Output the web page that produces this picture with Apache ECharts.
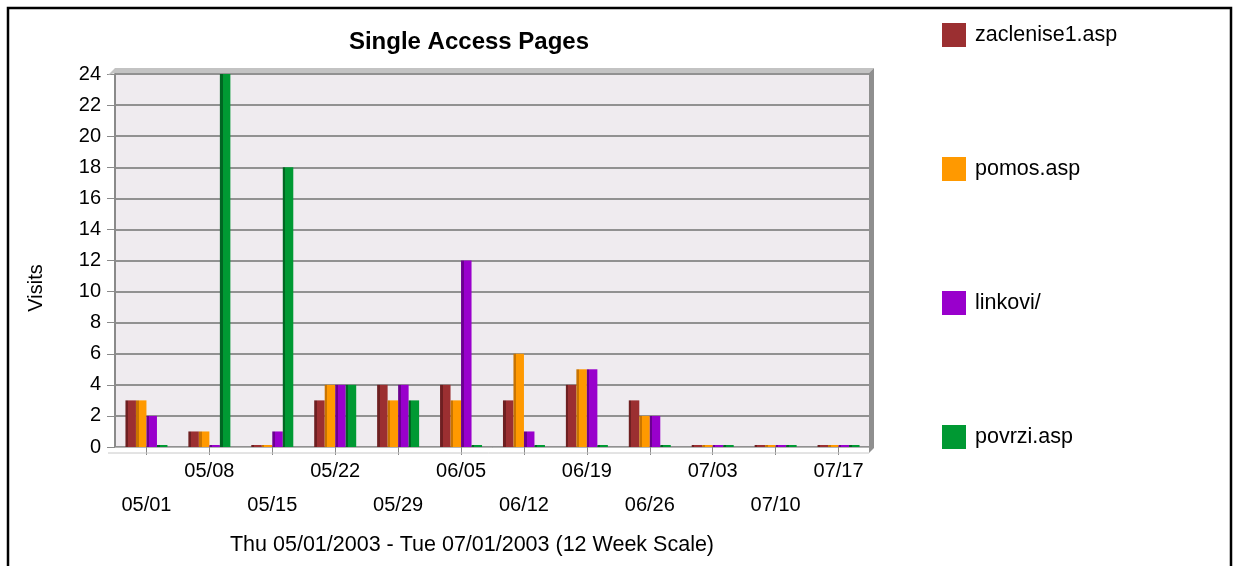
<!DOCTYPE html>
<html>
<head>
<meta charset="utf-8">
<script src="https://cdn.jsdelivr.net/npm/echarts@6/dist/echarts.min.js"></script>
<style>
  html, body { margin: 0; padding: 0; background: #fff; }
  #chart { width: 1239px; height: 566px; }
</style>
</head>
<body>
<div id="chart"></div>
<script>
// week start dates (x axis)
const weeks = ['05/01', '05/08', '05/15', '05/22', '05/29', '06/05', '06/12', '06/19', '06/26', '07/03', '07/10', '07/17'];

// visits per page
const zaclenise1 = [3, 1, 0, 3, 4, 4, 3, 4, 3, 0, 0, 0];
const pomos      = [3, 1, 0, 4, 3, 3, 6, 5, 2, 0, 0, 0];
const linkovi    = [2, 0, 1, 4, 4, 12, 1, 5, 2, 0, 0, 0];
const povrzi     = [0, 24, 18, 4, 3, 0, 0, 0, 0, 0, 0, 0];

const yTicks = [0, 2, 4, 6, 8, 10, 12, 14, 16, 18, 20, 22, 24];

const FONT = '"Liberation Sans", Arial, sans-serif';

const pages = [
  { name: 'zaclenise1.asp', data: zaclenise1, color: '#9b2f31', dark: '#6e1f21' },
  { name: 'pomos.asp',      data: pomos,      color: '#ff9900', dark: '#c97400' },
  { name: 'linkovi/',       data: linkovi,    color: '#9900cc', dark: '#6b0090' },
  { name: 'povrzi.asp',     data: povrzi,     color: '#009933', dark: '#006622' }
];

// fake 3d look: darker side face on the left
const sideShade = (color, dark) => ({
  type: 'linear', x: 0, y: 0, x2: 1, y2: 0,
  colorStops: [
    { offset: 0, color: dark },
    { offset: 0.25, color: dark },
    { offset: 0.25, color: color },
    { offset: 1, color: color }
  ]
});

const chart = echarts.init(document.getElementById('chart'));

const option = {
  animation: false,
  textStyle: { fontFamily: FONT },
  title: [
    {
      text: 'Single Access Pages',
      left: 464,
      top: 25,
      textAlign: 'center',
      textStyle: { fontFamily: FONT, fontSize: 24, fontWeight: 'bold', color: '#000' }
    },
    {
      text: 'Thu 05/01/2003 - Tue 07/01/2003 (12 Week Scale)',
      left: 467,
      top: 529,
      textAlign: 'center',
      textStyle: { fontFamily: FONT, fontSize: 21.5, fontWeight: 'normal', color: '#000' }
    }
  ],
  legend: {
    orient: 'vertical',
    left: 937,
    top: 18,
    icon: 'rect',
    itemWidth: 24,
    itemHeight: 24,
    itemGap: 110,
    selectedMode: false,
    textStyle: { fontFamily: FONT, fontSize: 21.5, color: '#000', padding: [0, 0, 0, 4] },
    data: pages.map(p => ({ name: p.name, itemStyle: { color: p.color } }))
  },
  grid: {
    left: 115,
    right: 369,
    top: 74,
    bottom: 119,
    show: true,
    backgroundColor: '#efebef',
    borderWidth: 0
  },
  xAxis: {
    type: 'category',
    data: weeks,
    axisLine: { show: true, lineStyle: { color: '#b5b5b5', width: 1 } },
    axisTick: { show: true, alignWithLabel: true, length: 8, lineStyle: { color: '#888' } },
    axisLabel: {
      color: '#000',
      fontSize: 20,
      fontFamily: FONT,
      margin: 7,
      lineHeight: 34,
      interval: 0,
      formatter: (v, i) => (i % 2 === 0 ? '\n' + v : v)
    },
    splitLine: { show: false }
  },
  yAxis: {
    type: 'value',
    min: 0,
    max: 24,
    interval: 2,
    axisLine: { show: true, lineStyle: { color: '#8a8a8a', width: 2 } },
    axisTick: { show: true, length: 8, lineStyle: { color: '#8a8a8a' } },
    axisLabel: {
      color: '#000',
      fontSize: 20,
      fontFamily: FONT,
      margin: 14,
      customValues: yTicks
    },
    splitLine: { show: true, lineStyle: { color: '#919191', width: 2 } }
  },
  graphic: [
    // outer black frame
    {
      type: 'rect',
      shape: { x: 8, y: 8, width: 1223, height: 620 },
      style: { fill: null, stroke: '#000', lineWidth: 2.5 },
      silent: true
    },
    // y axis title
    {
      type: 'text',
      x: 36,
      y: 288,
      rotation: Math.PI / 2,
      style: {
        text: 'Visits',
        fontFamily: FONT,
        fontSize: 20,
        fill: '#000',
        align: 'center',
        verticalAlign: 'middle'
      },
      silent: true
    },
    // top depth band
    {
      type: 'polygon',
      shape: { points: [[108, 75], [115, 68], [874, 68], [869, 73], [115, 73]] },
      style: { fill: '#c3c3c3' },
      silent: true,
      z: 1
    },
    // right depth band
    {
      type: 'polygon',
      shape: { points: [[869, 73], [874, 68], [874, 448], [869, 453]] },
      style: { fill: '#8f8f8f' },
      silent: true,
      z: 1
    },
    // floor edge
    {
      type: 'line',
      shape: { x1: 108, y1: 453, x2: 869, y2: 453 },
      style: { stroke: '#c8c8c8', lineWidth: 1 },
      silent: true,
      z: 1
    }
  ],
  series: pages.map(p => ({
    name: p.name,
    type: 'bar',
    data: p.data,
    barWidth: 10.5,
    barGap: '0%',
    barMinHeight: 2,
    itemStyle: { color: sideShade(p.color, p.dark) }
  }))
};

chart.setOption(option);
</script>
</body>
</html>
